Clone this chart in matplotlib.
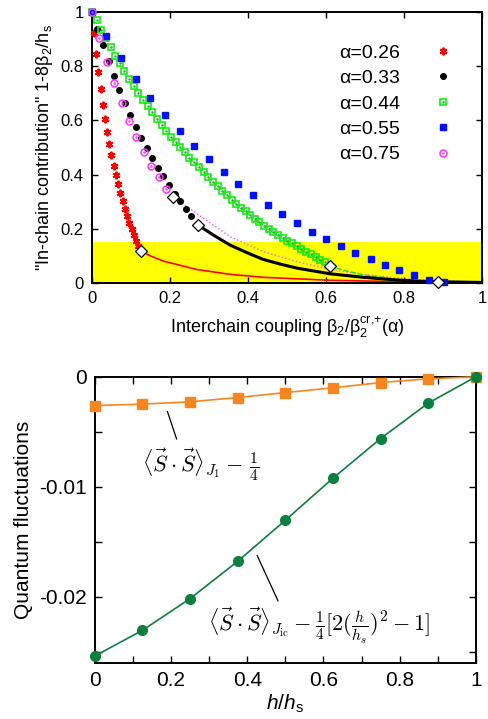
import matplotlib.pyplot as plt
from matplotlib.ticker import MultipleLocator

plt.rcParams['font.family'] = ['Liberation Sans', 'DejaVu Sans']
plt.rcParams['mathtext.fontset'] = 'custom'
plt.rcParams['mathtext.rm'] = 'Liberation Sans'
plt.rcParams['mathtext.it'] = 'Liberation Sans:italic'
plt.rcParams['axes.unicode_minus'] = False
plt.rcParams['xtick.direction'] = 'in'
plt.rcParams['ytick.direction'] = 'in'
plt.rcParams['xtick.top'] = True
plt.rcParams['ytick.right'] = True

# ---- top panel: in-chain contribution vs interchain coupling
a026_x = [0.0, 0.006, 0.011, 0.016, 0.022, 0.028, 0.034, 0.039, 0.044, 0.050, 0.056,
          0.062, 0.067, 0.073, 0.079, 0.085, 0.091, 0.096, 0.102, 0.108, 0.113, 0.118]
a026_y = [1.0, 0.922, 0.845, 0.777, 0.715, 0.657, 0.606, 0.557, 0.513, 0.471, 0.433,
          0.397, 0.364, 0.332, 0.301, 0.273, 0.246, 0.221, 0.198, 0.177, 0.156, 0.137]

a033_x = [0.0, 0.013, 0.028, 0.043, 0.056, 0.070, 0.085, 0.098, 0.113, 0.126, 0.141,
          0.155, 0.169, 0.183, 0.197, 0.212, 0.226, 0.240, 0.254]
a033_y = [1.0, 0.936, 0.877, 0.818, 0.764, 0.714, 0.665, 0.620, 0.577, 0.536, 0.497,
          0.460, 0.426, 0.394, 0.363, 0.330, 0.302, 0.273, 0.247]

a044_x = [0.0, 0.012, 0.024, 0.036, 0.048, 0.059, 0.071, 0.083, 0.095, 0.107, 0.119,
          0.131, 0.143, 0.155, 0.167, 0.179, 0.191, 0.203, 0.215, 0.226, 0.238, 0.250,
          0.262, 0.274, 0.286, 0.298, 0.310, 0.322, 0.334, 0.346, 0.358, 0.370, 0.382,
          0.394, 0.405, 0.417, 0.429, 0.441, 0.453, 0.465, 0.477, 0.489, 0.501, 0.513,
          0.525, 0.537, 0.549, 0.561, 0.573, 0.585, 0.596]
a044_y = [1.0, 0.970, 0.935, 0.903, 0.870, 0.839, 0.810, 0.782, 0.754, 0.728, 0.701,
          0.676, 0.653, 0.630, 0.606, 0.584, 0.562, 0.540, 0.520, 0.501, 0.482, 0.463,
          0.445, 0.427, 0.409, 0.391, 0.373, 0.357, 0.340, 0.324, 0.308, 0.293, 0.278,
          0.264, 0.250, 0.237, 0.224, 0.212, 0.199, 0.188, 0.177, 0.166, 0.156, 0.146,
          0.137, 0.126, 0.116, 0.106, 0.096, 0.086, 0.076]

a055_x = [0.0, 0.037, 0.075, 0.114, 0.150, 0.188, 0.226, 0.262, 0.301, 0.339, 0.375,
          0.414, 0.450, 0.488, 0.526, 0.563, 0.601, 0.639, 0.675, 0.714, 0.752, 0.788,
          0.826, 0.865, 0.901]
a055_y = [1.0, 0.910, 0.829, 0.752, 0.681, 0.619, 0.560, 0.504, 0.456, 0.408, 0.364,
          0.324, 0.287, 0.254, 0.220, 0.187, 0.161, 0.135, 0.111, 0.087, 0.065, 0.047,
          0.028, 0.011, 0.004]

a075_x = [0.0, 0.019, 0.038, 0.057, 0.076, 0.095, 0.114, 0.133, 0.152, 0.171, 0.191]
a075_y = [1.0, 0.905, 0.817, 0.737, 0.664, 0.599, 0.539, 0.484, 0.433, 0.390, 0.348]

# continuation curves beyond the last computed point
red_line_x = [0.125, 0.150, 0.183, 0.268, 0.354, 0.439, 0.610, 0.781, 1.0]
red_line_y = [0.118, 0.100, 0.081, 0.050, 0.032, 0.021, 0.010, 0.005, 0.002]
black_line_x = [0.273, 0.311, 0.354, 0.397, 0.439, 0.482, 0.525, 0.610, 0.696, 0.781, 0.867, 1.0]
black_line_y = [0.213, 0.177, 0.140, 0.112, 0.087, 0.070, 0.055, 0.034, 0.021, 0.011, 0.005, 0.002]
mag_line_x = [0.208, 0.268, 0.354, 0.439, 0.525, 0.610, 0.696, 0.781, 0.867, 1.0]
mag_line_y = [0.318, 0.257, 0.171, 0.116, 0.079, 0.050, 0.032, 0.018, 0.010, 0.003]
green_line_x = [0.609, 0.650, 0.696, 0.781, 0.867, 1.0]
green_line_y = [0.062, 0.045, 0.030, 0.014, 0.006, 0.002]

end_x = [0.125, 0.208, 0.273, 0.609, 0.886]
end_y = [0.118, 0.318, 0.213, 0.062, 0.005]

band_top = 0.15
top_ticks = [0, 0.2, 0.4, 0.6, 0.8, 1]
top_ticklabels = ['0', '0.2', '0.4', '0.6', '0.8', '1']

# ---- bottom panel: quantum fluctuations vs field
h = [0, 0.125, 0.25, 0.375, 0.5, 0.625, 0.75, 0.875, 1.0]
q_j1 = [-0.00261, -0.00248, -0.00227, -0.00188, -0.00143, -0.00100, -0.00052, -0.00018, 0.0]
q_jic = [-0.02536, -0.02303, -0.02015, -0.01676, -0.01303, -0.00921, -0.00561, -0.00239, 0.0]
bot_xticks = [0, 0.2, 0.4, 0.6, 0.8, 1]
bot_xticklabels = ['0', '0.2', '0.4', '0.6', '0.8', '1']
bot_yticks = [0, -0.01, -0.02]
bot_yticklabels = ['0', '-0.01', '-0.02']

fig = plt.figure(figsize=(4.89, 7.19), dpi=100)

ax = fig.add_axes([0.188, 0.6064, 0.798, 0.3769])
ax.axhspan(0, band_top, color='#ffff00', lw=0, zorder=0)

ax.plot(red_line_x, red_line_y, color='red', lw=1.2, zorder=2)
ax.plot(mag_line_x, mag_line_y, color='#ff55ff', lw=1.0, ls=':', zorder=2)
ax.plot(green_line_x, green_line_y, color='#22dd22', lw=1.0, ls='--', zorder=2)
ax.plot(black_line_x, black_line_y, color='black', lw=2.2, zorder=2)

mk = dict(ls='none', clip_on=False, zorder=3)
h1, = ax.plot(a026_x, a026_y, marker=(6, 2, 0), ms=5.5, mew=1.4, color='red', **mk)
h2, = ax.plot(a033_x, a033_y, marker='o', ms=4, color='black', **mk)
h3a, = ax.plot(a044_x, a044_y, marker='s', ms=5, mfc='none', mec='#11ee11', mew=1.2, **mk)
h3b, = ax.plot(a044_x, a044_y, marker='.', ms=1.5, color='#22aa22', **mk)
h4, = ax.plot(a055_x, a055_y, marker='s', ms=5, color='#0010ff', **mk)
h5a, = ax.plot(a075_x, a075_y, marker='o', ms=5, mfc='none', mec='#ff33ff', mew=1.1, **mk)
h5b, = ax.plot(a075_x, a075_y, marker='.', ms=1.5, color='#ff33ff', **mk)
ax.plot(end_x, end_y, ls='none', marker='D', ms=6, mfc='white', mec='black', mew=0.9,
        clip_on=False, zorder=4)

leg = ax.legend([h1, h2, (h3a, h3b), h4, (h5a, h5b)],
                ['α=0.26', 'α=0.33', 'α=0.44', 'α=0.55', 'α=0.75'],
                loc='upper right', bbox_to_anchor=(0.970, 0.946), frameon=False,
                markerfirst=False, numpoints=1, fontsize=14, labelspacing=0.40,
                handlelength=1.0, handletextpad=1.7)

ax.set_xlim(0, 1)
ax.set_ylim(0, 1)
ax.set_xticks(top_ticks)
ax.set_xticklabels(top_ticklabels)
ax.set_yticks(top_ticks)
ax.set_yticklabels(top_ticklabels)
ax.tick_params(labelsize=12, length=4, width=1, pad=6)
for s in ax.spines.values():
    s.set_linewidth(1.4)
ax.set_xlabel('Interchain coupling β$_2$/β$_2^{\\text{cr,+}}$(α)', fontsize=13, labelpad=6)
ax.set_ylabel('"In-chain contribution" 1-8β$_2$/h$_\\mathrm{s}$', fontsize=13, labelpad=4)

ax2 = fig.add_axes([0.194, 0.0779, 0.779, 0.398])
orange = '#f78520'
green = '#0b7f3d'
ax2.plot(h, q_j1, color=orange, lw=1.2, marker='s', ms=7.5, clip_on=False, zorder=3)
ax2.plot(h, q_jic, color=green, lw=1.2, marker='o', ms=7, clip_on=False, zorder=4)

ax2.annotate('', xy=(0.188, -0.0029), xytext=(0.217, -0.0059),
             arrowprops=dict(arrowstyle='-', lw=0.9, color='black'))
ax2.annotate('', xy=(0.423, -0.0160), xytext=(0.484, -0.0206),
             arrowprops=dict(arrowstyle='-', lw=0.9, color='black'))
ax2.text(0.123, -0.0080, r'$\langle\vec{S}\cdot\vec{S}\rangle_{J_1}-\,\frac{1}{4}$',
         math_fontfamily='cm', fontsize=16, va='center', ha='left')
ax2.text(0.297, -0.0226, r'$\langle\vec{S}\cdot\vec{S}\rangle_{J_{\rm ic}}-\frac{1}{4}[2(\frac{h}{h_s})^2-1]$',
         math_fontfamily='cm', fontsize=16, va='center', ha='left')

ax2.set_xlim(0, 1)
ax2.set_ylim(-0.026, 0)
ax2.set_xticks(bot_xticks)
ax2.set_xticklabels(bot_xticklabels)
ax2.set_yticks(bot_yticks)
ax2.set_yticklabels(bot_yticklabels)
ax2.xaxis.set_minor_locator(MultipleLocator(0.1))
ax2.yaxis.set_minor_locator(MultipleLocator(0.005))
ax2.tick_params(which='both', labelsize=15, length=5, width=1, pad=6)
for s in ax2.spines.values():
    s.set_linewidth(1.4)
ax2.set_xlabel('$h/h_\\mathrm{s}$', fontsize=15, labelpad=2)
ax2.set_ylabel('Quantum fluctuations', fontsize=15, labelpad=4)

fig.savefig('out.png', dpi=100)
